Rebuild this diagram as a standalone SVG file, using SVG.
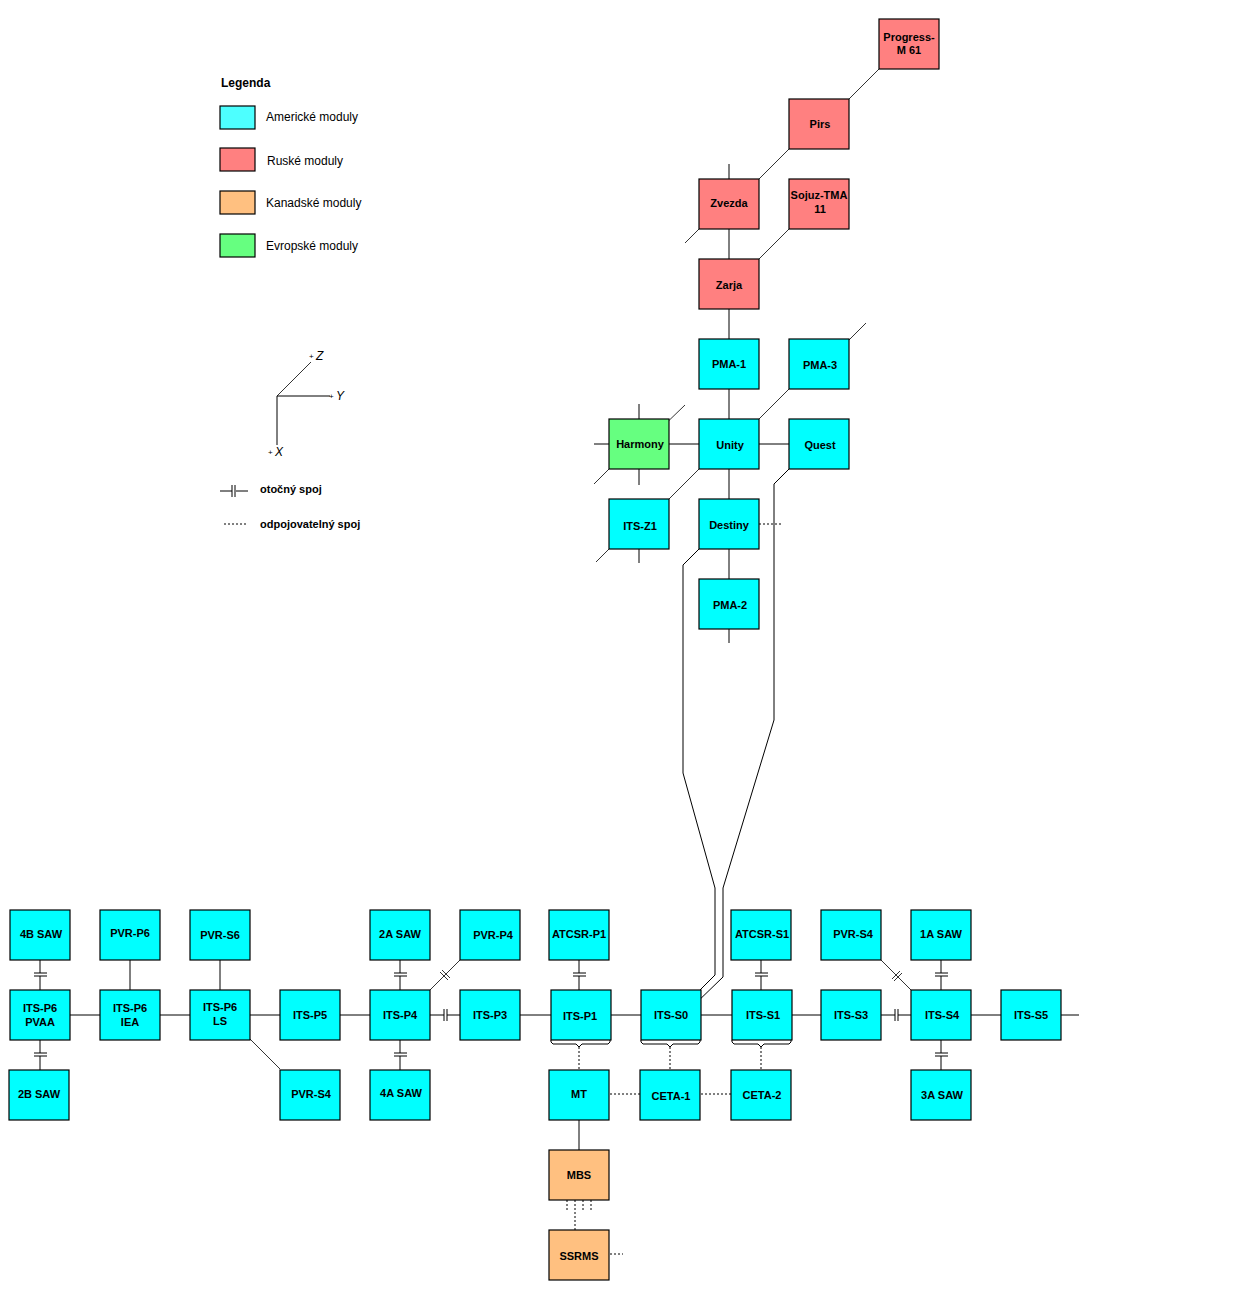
<svg xmlns="http://www.w3.org/2000/svg" width="1260" height="1300" viewBox="0 0 1260 1300">
<style>
rect.n{stroke:#000;stroke-width:1.2}
.us{fill:#00FFFF}.ru{fill:#FF8080}.ca{fill:#FFC080}.eu{fill:#66FF80}
text{font-family:"Liberation Sans",Arial,sans-serif;font-size:11px;font-weight:bold;fill:#000;text-anchor:middle}
text.lg{font-weight:normal;font-size:12px;text-anchor:start}
line,path,polyline{stroke:#000;stroke-width:1;fill:none}
.d{stroke-dasharray:2,2}
.t{stroke-width:0.8}
</style>
<rect width="1260" height="1300" fill="#fff"/>
<g id="legend">
<text x="221" y="87" style="text-anchor:start;font-size:12px">Legenda</text>
<rect class="n" x="220" y="106" width="35" height="23" fill="#4DFFFF"/><text class="lg" x="266" y="121">Americké moduly</text>
<rect class="n" x="220" y="148" width="35" height="23" fill="#FF8080"/><text class="lg" x="267" y="165">Ruské moduly</text>
<rect class="n" x="220" y="191" width="35" height="23" fill="#FFC080"/><text class="lg" x="266" y="207">Kanadské moduly</text>
<rect class="n" x="220" y="234" width="35" height="23" fill="#66FF80"/><text class="lg" x="266" y="250">Evropské moduly</text>
<line x1="277" y1="396" x2="277" y2="445"/><line x1="277" y1="396" x2="330" y2="396"/><line x1="277" y1="396" x2="311" y2="362" class="t"/>
<text class="lg" x="309" y="359" style="font-size:8px">+</text><text class="lg" x="316" y="360" style="font-style:italic">Z</text>
<text class="lg" x="329" y="399" style="font-size:8px">+</text><text class="lg" x="336" y="400" style="font-style:italic">Y</text>
<text class="lg" x="268" y="455" style="font-size:8px">+</text><text class="lg" x="275" y="456" style="font-style:italic">X</text>
<line x1="220" y1="491" x2="232" y2="491"/><line x1="236" y1="491" x2="248" y2="491"/><line x1="232" y1="485" x2="232" y2="497"/><line x1="235" y1="485" x2="235" y2="497"/>
<text x="260" y="493" style="text-anchor:start">otočný spoj</text>
<line x1="224" y1="524" x2="248" y2="524" class="d"/>
<text x="260" y="528" style="text-anchor:start">odpojovatelný spoj</text>
</g>
<g id="connectors">
<!-- top russian segment -->
<line x1="879" y1="69" x2="836" y2="112" class="t"/>
<line x1="789" y1="149" x2="746" y2="192" class="t"/>
<line x1="729" y1="164" x2="729" y2="179"/>
<line x1="699" y1="229" x2="685" y2="243" class="t"/>
<line x1="729" y1="229" x2="729" y2="259"/>
<line x1="789" y1="229" x2="746" y2="272" class="t"/>
<line x1="729" y1="309" x2="729" y2="339"/>
<line x1="866" y1="323" x2="833" y2="356" class="t"/>
<line x1="729" y1="389" x2="729" y2="419"/>
<line x1="789" y1="389" x2="746" y2="432" class="t"/>
<line x1="639" y1="404" x2="639" y2="419"/>
<line x1="639" y1="469" x2="639" y2="485"/>
<line x1="594" y1="444" x2="609" y2="444"/>
<line x1="685" y1="405" x2="656" y2="433" class="t"/>
<line x1="609" y1="469" x2="594" y2="484" class="t"/>
<line x1="669" y1="444" x2="699" y2="444"/>
<line x1="759" y1="444" x2="789" y2="444"/>
<line x1="729" y1="469" x2="729" y2="499"/>
<line x1="699" y1="469" x2="656" y2="512" class="t"/>
<line x1="639" y1="549" x2="639" y2="563"/>
<line x1="609" y1="549" x2="596" y2="562" class="t"/>
<line x1="759" y1="524" x2="781" y2="524" class="d"/>
<line x1="729" y1="549" x2="729" y2="579"/>
<line x1="729" y1="629" x2="729" y2="643"/>
<polyline points="789,469 774,484 774,720 723,888 723,977 692,1007"/>
<polyline points="699,549 683,565 683,773 715,888 715,975 692,998"/>
<!-- truss -->
<line x1="70" y1="1015" x2="100" y2="1015"/>
<line x1="160" y1="1015" x2="190" y2="1015"/>
<line x1="250" y1="1015" x2="280" y2="1015"/>
<line x1="340" y1="1015" x2="370" y2="1015"/>
<line x1="430" y1="1015" x2="444" y2="1015"/><line x1="447" y1="1015" x2="460" y2="1015"/>
<line x1="444" y1="1009" x2="444" y2="1021"/><line x1="447" y1="1009" x2="447" y2="1021"/>
<line x1="520" y1="1015" x2="551" y2="1015"/>
<line x1="611" y1="1015" x2="641" y2="1015"/>
<line x1="701" y1="1015" x2="732" y2="1015"/>
<line x1="792" y1="1015" x2="821" y2="1015"/>
<line x1="881" y1="1015" x2="895" y2="1015"/><line x1="898" y1="1015" x2="911" y2="1015"/>
<line x1="895" y1="1009" x2="895" y2="1021"/><line x1="898" y1="1009" x2="898" y2="1021"/>
<line x1="971" y1="1015" x2="1001" y2="1015"/>
<line x1="1061" y1="1015" x2="1079" y2="1015"/>
<line x1="130" y1="960" x2="130" y2="990"/>
<line x1="220" y1="960" x2="220" y2="990"/>
<line x1="250" y1="1039" x2="280" y2="1069" class="t"/>
<!-- rotary joints vertical -->
<g id="rj">
<path d="M40 960V973M40 976V990M34 973H47M34 976H47"/>
<path d="M40 1040V1053M40 1056V1070M34 1053H47M34 1056H47"/>
<path d="M400 960V973M400 976V990M394 973H407M394 976H407"/>
<path d="M400 1040V1053M400 1056V1070M394 1053H407M394 1056H407"/>
<path d="M579 960V973M579 976V990M573 973H586M573 976H586"/>
<path d="M761 960V973M761 976V990M755 973H768M755 976H768"/>
<path d="M941 960V973M941 976V990M935 973H948M935 976H948"/>
<path d="M941 1040V1053M941 1056V1070M935 1053H948M935 1056H948"/>
</g>
<line x1="460" y1="960" x2="416" y2="1004" class="t"/>
<path d="M440 972L448 980M442 970L450 978" class="t"/>
<line x1="881" y1="960" x2="925" y2="1004" class="t"/>
<path d="M892 979L900 971M894 981L902 973" class="t"/>
<!-- brackets -->
<path d="M551 1040v2l2 2h23l3 3l3-3h26l2-2v-2"/>
<path d="M641 1040v2l2 2h24l3 3l3-3h25l2-2v-2"/>
<path d="M732 1040v2l2 2h24l3 3l3-3h25l2-2v-2"/>
<line x1="579" y1="1047" x2="579" y2="1070" class="d"/>
<line x1="670" y1="1047" x2="670" y2="1070" class="d"/>
<line x1="761" y1="1047" x2="761" y2="1070" class="d"/>
<line x1="610" y1="1094" x2="640" y2="1094" class="d"/>
<line x1="701" y1="1094" x2="731" y2="1094" class="d"/>
<line x1="579" y1="1120" x2="579" y2="1150"/>
<path d="M567 1200V1210M583 1200V1210M591 1200V1210M575 1200V1230" class="d"/>
<line x1="610" y1="1254" x2="623" y2="1254" class="d"/>
</g>
<g id="n-progress"><rect class="n ru" x="879" y="19" width="60" height="50"/><text x="909" y="41">Progress-</text><text x="909" y="54">M 61</text></g>
<g id="n-pirs"><rect class="n ru" x="789" y="99" width="60" height="50"/><text x="820" y="128">Pirs</text></g>
<g id="n-zvezda"><rect class="n ru" x="699" y="179" width="60" height="50"/><text x="729" y="207">Zvezda</text></g>
<g id="n-sojuz"><rect class="n ru" x="789" y="179" width="60" height="50"/><text x="819" y="199">Sojuz-TMA</text><text x="820" y="213">11</text></g>
<g id="n-zarja"><rect class="n ru" x="699" y="259" width="60" height="50"/><text x="729" y="289">Zarja</text></g>
<g id="n-pma1"><rect class="n us" x="699" y="339" width="60" height="50"/><text x="729" y="368">PMA-1</text></g>
<g id="n-pma3"><rect class="n us" x="789" y="339" width="60" height="50"/><text x="820" y="369">PMA-3</text></g>
<g id="n-harmony"><rect class="n eu" x="609" y="419" width="60" height="50"/><text x="640" y="448">Harmony</text></g>
<g id="n-unity"><rect class="n us" x="699" y="419" width="60" height="50"/><text x="730" y="449">Unity</text></g>
<g id="n-quest"><rect class="n us" x="789" y="419" width="60" height="50"/><text x="820" y="449">Quest</text></g>
<g id="n-itsz1"><rect class="n us" x="609" y="499" width="60" height="50"/><text x="640" y="530">ITS-Z1</text></g>
<g id="n-destiny"><rect class="n us" x="699" y="499" width="60" height="50"/><text x="729" y="529">Destiny</text></g>
<g id="n-pma2"><rect class="n us" x="699" y="579" width="60" height="50"/><text x="730" y="609">PMA-2</text></g>
<g id="n-4bsaw"><rect class="n us" x="10" y="910" width="60" height="50"/><text x="41" y="938">4B SAW</text></g>
<g id="n-pvrp6"><rect class="n us" x="100" y="910" width="60" height="50"/><text x="130" y="937">PVR-P6</text></g>
<g id="n-pvrs6"><rect class="n us" x="190" y="910" width="60" height="50"/><text x="220" y="939">PVR-S6</text></g>
<g id="n-2asaw"><rect class="n us" x="370" y="910" width="60" height="50"/><text x="400" y="938">2A SAW</text></g>
<g id="n-pvrp4"><rect class="n us" x="460" y="910" width="60" height="50"/><text x="493" y="939">PVR-P4</text></g>
<g id="n-atcsrp1"><rect class="n us" x="549" y="910" width="60" height="50"/><text x="579" y="938">ATCSR-P1</text></g>
<g id="n-atcsrs1"><rect class="n us" x="731" y="910" width="60" height="50"/><text x="762" y="938">ATCSR-S1</text></g>
<g id="n-pvrs4r"><rect class="n us" x="821" y="910" width="60" height="50"/><text x="853" y="938">PVR-S4</text></g>
<g id="n-1asaw"><rect class="n us" x="911" y="910" width="60" height="50"/><text x="941" y="938">1A SAW</text></g>
<g id="n-p6pvaa"><rect class="n us" x="10" y="990" width="60" height="50"/><text x="40" y="1012">ITS-P6</text><text x="40" y="1026">PVAA</text></g>
<g id="n-p6iea"><rect class="n us" x="100" y="990" width="60" height="50"/><text x="130" y="1012">ITS-P6</text><text x="130" y="1026">IEA</text></g>
<g id="n-p6ls"><rect class="n us" x="190" y="990" width="60" height="50"/><text x="220" y="1011">ITS-P6</text><text x="220" y="1025">LS</text></g>
<g id="n-p5"><rect class="n us" x="280" y="990" width="60" height="50"/><text x="310" y="1019">ITS-P5</text></g>
<g id="n-p4"><rect class="n us" x="370" y="990" width="60" height="50"/><text x="400" y="1019">ITS-P4</text></g>
<g id="n-p3"><rect class="n us" x="460" y="990" width="60" height="50"/><text x="490" y="1019">ITS-P3</text></g>
<g id="n-p1"><rect class="n us" x="551" y="990" width="60" height="50"/><text x="580" y="1020">ITS-P1</text></g>
<g id="n-s0"><rect class="n us" x="641" y="990" width="60" height="50"/><text x="671" y="1019">ITS-S0</text></g>
<g id="n-s1"><rect class="n us" x="732" y="990" width="60" height="50"/><text x="763" y="1019">ITS-S1</text></g>
<g id="n-s3"><rect class="n us" x="821" y="990" width="60" height="50"/><text x="851" y="1019">ITS-S3</text></g>
<g id="n-s4"><rect class="n us" x="911" y="990" width="60" height="50"/><text x="942" y="1019">ITS-S4</text></g>
<g id="n-s5"><rect class="n us" x="1001" y="990" width="60" height="50"/><text x="1031" y="1019">ITS-S5</text></g>
<g id="n-2bsaw"><rect class="n us" x="9" y="1070" width="60" height="50"/><text x="39" y="1098">2B SAW</text></g>
<g id="n-pvrs4l"><rect class="n us" x="280" y="1070" width="60" height="50"/><text x="311" y="1098">PVR-S4</text></g>
<g id="n-4asaw"><rect class="n us" x="370" y="1070" width="60" height="50"/><text x="401" y="1097">4A SAW</text></g>
<g id="n-mt"><rect class="n us" x="549" y="1070" width="60" height="50"/><text x="579" y="1098">MT</text></g>
<g id="n-ceta1"><rect class="n us" x="640" y="1070" width="60" height="50"/><text x="671" y="1100">CETA-1</text></g>
<g id="n-ceta2"><rect class="n us" x="731" y="1070" width="60" height="50"/><text x="762" y="1099">CETA-2</text></g>
<g id="n-3asaw"><rect class="n us" x="911" y="1070" width="60" height="50"/><text x="942" y="1099">3A SAW</text></g>
<g id="n-mbs"><rect class="n ca" x="549" y="1150" width="60" height="50"/><text x="579" y="1179">MBS</text></g>
<g id="n-ssrms"><rect class="n ca" x="549" y="1230" width="60" height="50"/><text x="579" y="1260">SSRMS</text></g>
</svg>
